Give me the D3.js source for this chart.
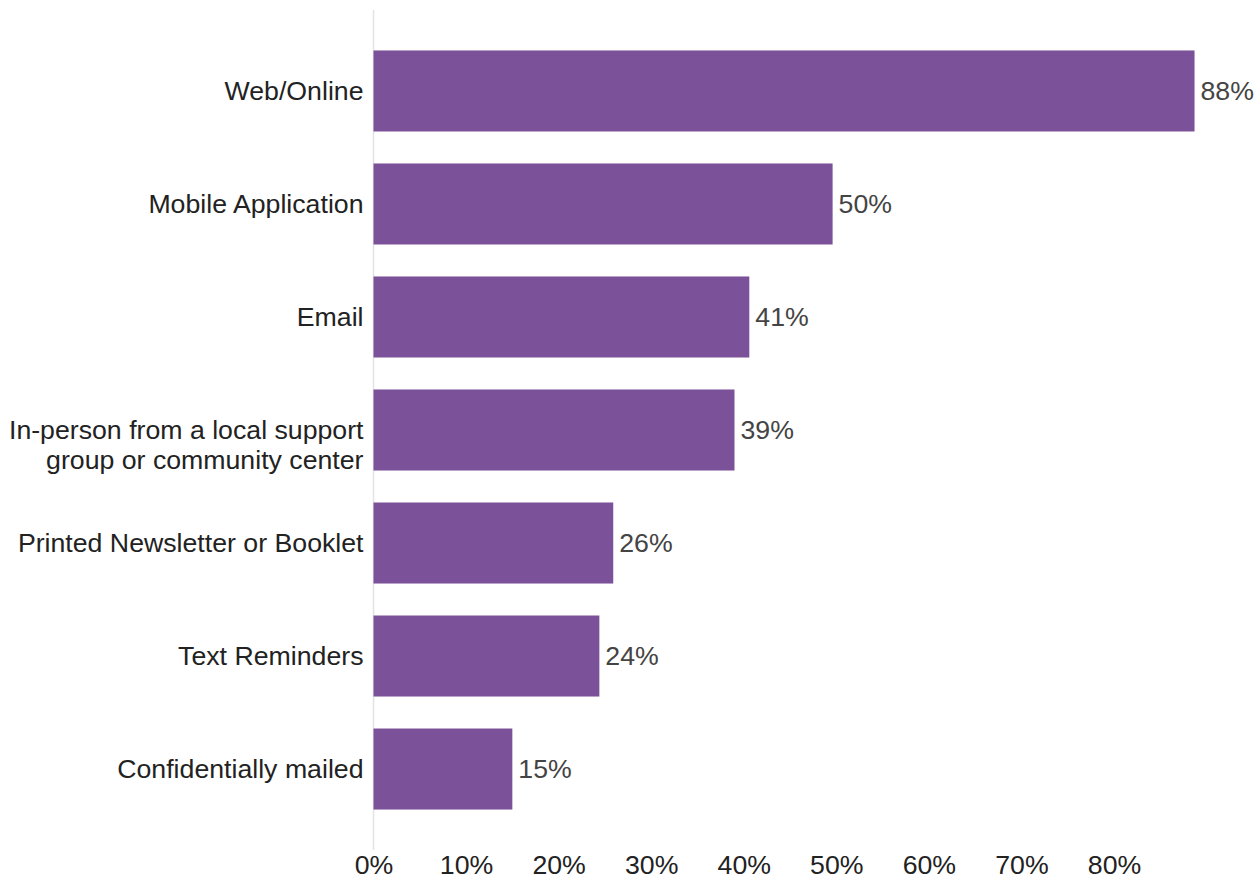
<!DOCTYPE html>
<html><head><meta charset="utf-8">
<script src="https://cdn.jsdelivr.net/npm/d3@7"></script>
<style>body{margin:0;background:#fff;} svg{display:block;font-family:"Liberation Sans",Arial,sans-serif;}</style>
</head><body>
<script>
const categories = ["Web/Online","Mobile Application","Email","In-person from a local support\ngroup or community center","Printed Newsletter or Booklet","Text Reminders","Confidentially mailed"];
const values = [88.7, 49.6, 40.6, 39.0, 25.9, 24.4, 15.0];
const valueLabels = ["88%","50%","41%","39%","26%","24%","15%"];
const tickValues = [0,10,20,30,40,50,60,70,80];
const tickLabels = ["0%","10%","20%","30%","40%","50%","60%","70%","80%"];

const W = 1259, H = 880, FS = 26.7;
const svg = d3.select("body").append("svg").attr("width", W).attr("height", H);
const x = d3.scaleLinear().domain([0, 80]).range([373.5, 1114]);
const y = d3.scaleBand().domain(categories).range([10, 850]).paddingInner(0.283).paddingOuter(0.358);

svg.append("line").attr("x1", x(0)).attr("x2", x(0)).attr("y1", 10).attr("y2", 850)
  .attr("stroke", "#e3e3e3").attr("stroke-width", 1.5);

svg.selectAll("rect.bar").data(categories).join("rect").attr("class","bar")
  .attr("x", x(0)).attr("y", d => y(d)).attr("width", (d,i) => x(values[i]) - x(0))
  .attr("height", y.bandwidth()).attr("fill", "#7b5199");

svg.selectAll("text.val").data(categories).join("text").attr("class","val")
  .attr("x", (d,i) => x(values[i]) + 6).attr("y", d => y(d) + y.bandwidth()/2)
  .attr("dy", "0.35em").attr("font-size", FS).attr("fill", "#444")
  .text((d,i) => valueLabels[i]);

const cat = svg.selectAll("text.cat").data(categories).join("text").attr("class","cat")
  .attr("x", x(0) - 10).attr("y", d => y(d) + y.bandwidth()/2)
  .attr("text-anchor", "end").attr("font-size", FS).attr("fill", "#222");
cat.each(function(d){
  const lines = d.split("\n");
  const t = d3.select(this);
  lines.forEach((l, i) => {
    t.append("tspan").attr("x", x(0) - 10).attr("dy", i === 0 ? "0.35em" : "30").text(l);
  });
});

const xAxis = d3.axisBottom(x).tickValues(tickValues).tickFormat((d,i) => tickLabels[i]).tickSize(0).tickPadding(0);
const gx = svg.append("g").attr("transform", "translate(0,874)").call(xAxis);
gx.select(".domain").remove();
gx.selectAll("text").attr("font-size", FS).attr("fill", "#222").attr("font-family", "Liberation Sans, Arial, sans-serif").attr("dy", "0");
</script>
</body></html>
